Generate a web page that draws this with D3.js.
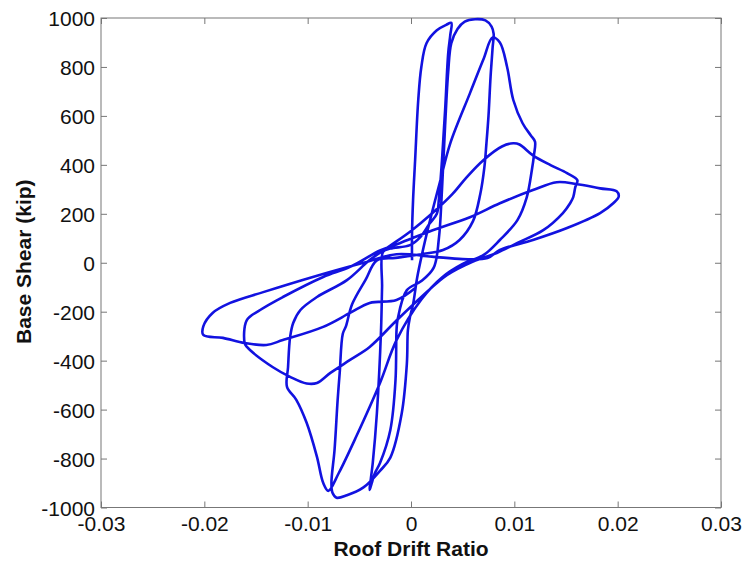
<!DOCTYPE html>
<html>
<head>
<meta charset="UTF-8">
<title>Base Shear vs Roof Drift Ratio</title>
<script src="https://d3js.org/d3.v7.min.js"></script>
<style>
  body { margin: 0; background: #fff; }
  text { font-family: "Liberation Sans", Arial, sans-serif; }
</style>
</head>
<body>
<svg id="mainsvg" width="746" height="566"></svg>
<script>
// hysteresis path (drift ratio, kip)
const driftRatio = [
  0.0001, 0.0001, 0.0002, 0.0004, 0.0007, 0.0010, 0.0015, 0.0025, 0.0034, 0.0039,
  0.0038, 0.0036, 0.0033, 0.0030, 0.0027, 0.0025, 0.0018, 0.0009, -0.0001, -0.0020, -0.0027, -0.0028, -0.0029, -0.0033, -0.0037, -0.0040,
  -0.0038, -0.0035, -0.0030, -0.0020, -0.0015, -0.0014, -0.0013, -0.0004, 0.0010, 0.0022, 0.0027, 0.0030, 0.0033, 0.0036, 0.0039, 0.0045, 0.0052, 0.0062, 0.0072, 0.0078, 0.0080,
  0.0079, 0.0077, 0.0075, 0.0073, 0.0071, 0.0067, 0.0060, 0.0047, 0.0031, 0.0010, -0.0015, -0.0033, -0.0044, -0.0057, -0.0063, -0.0066, -0.0069, -0.0071, -0.0074, -0.0077, -0.0076, -0.0072,
  -0.0062, -0.0046, -0.0030, -0.0020, -0.0009, -0.0004, -0.0003, -0.0001, 0.0002, 0.0006, 0.0012, 0.0020, 0.0028, 0.0038, 0.0057, 0.0070, 0.0079,
  0.0086, 0.0093, 0.0099, 0.0108, 0.0116, 0.0120, 0.0119, 0.0117, 0.0112, 0.0103, 0.0086, 0.0070, 0.0050, 0.0030, 0.0010, -0.0014, -0.0030, -0.0053, -0.0070, -0.0080,
  -0.0085, -0.0091, -0.0101, -0.0111, -0.0120, -0.0119, -0.0117, -0.0114, -0.0107, -0.0091, -0.0062, -0.0040, -0.0020, 0.0000, 0.0020, 0.0040, 0.0054, 0.0070, 0.0088, 0.0099,
  0.0105, 0.0118, 0.0135, 0.0151, 0.0161, 0.0159, 0.0157, 0.0154, 0.0147, 0.0128, 0.0103, 0.0083, 0.0060, 0.0035, 0.0010, -0.0015, -0.0040, -0.0059, -0.0078, -0.0091, -0.0101, -0.0117, -0.0134, -0.0159, -0.0161,
  -0.0159, -0.0146, -0.0124, -0.0085, -0.0059, -0.0030, -0.0011, 0.0021, 0.0057, 0.0086, 0.0118, 0.0141, 0.0160, 0.0183, 0.0199, 0.0201, 0.0196, 0.0183, 0.0151, 0.0118, 0.0086, 0.0074,
  0.0050, 0.0020, -0.0014, -0.0046, -0.0095, -0.0143, -0.0175, -0.0192, -0.0201, -0.0201, -0.0182, -0.0161, -0.0140, -0.0124, -0.0085, -0.0059, -0.0040, -0.0014, 0.0005
];
const baseShear = [
  10, 120, 256, 420, 664, 800, 897, 950, 972, 980,
  930, 856, 623, 419, 260, 200, 160, 105, 72, 58, 45, -100, -275, -614, -818, -928,
  -900, -860, -818, -683, -480, -275, -233, -112, -75, -20, 100, 300, 560, 780, 897, 955, 985, 995, 990, 965, 935,
  880, 760, 600, 488, 390, 280, 170, 93, 52, 35, 20, 10, -70, -170, -260, -290, -450, -561, -765, -899, -940, -960,
  -950, -918, -850, -796, -616, -412, -275, -222, -170, -60, 60, 200, 330, 488, 692, 830, 920,
  900, 800, 665, 570, 520, 495, 440, 380, 267, 174, 93, 31, -5, -60, -150, -316, -491, -710, -860, -932,
  -899, -793, -654, -560, -507, -427, -304, -246, -193, -140, -71, 11, 70, 130, 200, 280, 350, 419, 475, 488,
  483, 439, 399, 366, 337, 309, 268, 243, 203, 133, 81, 40, 5, -50, -140, -240, -344, -397, -450, -491, -493, -466, -426, -343, -328,
  -235, -193, -140, -58, -17, 50, 80, 133, 186, 243, 297, 329, 322, 304, 292, 270, 244, 203, 142, 93, 52, 19,
  15, 25, 35, 0, -58, -120, -164, -205, -260, -295, -307, -328, -336, -316, -262, -205, -164, -152, -100
];

const xTicks = [-0.03, -0.02, -0.01, 0, 0.01, 0.02, 0.03];
const xTickLabels = ["-0.03", "-0.02", "-0.01", "0", "0.01", "0.02", "0.03"];
const yTicks = [-1000, -800, -600, -400, -200, 0, 200, 400, 600, 800, 1000];
const yTickLabels = ["-1000", "-800", "-600", "-400", "-200", "0", "200", "400", "600", "800", "1000"];

const xAxisLabel = 'Roof Drift Ratio';
const yAxisLabel = 'Base Shear (kip)';

const svg = d3.select('#mainsvg');
const width = +svg.attr('width');
const height = +svg.attr('height');
const margin = {top: 18, right: 25, bottom: 58.5, left: 101};
const innerWidth = width - margin.left - margin.right;
const innerHeight = height - margin.top - margin.bottom;

const xScale = d3.scaleLinear().domain([-0.03, 0.03]).range([0, innerWidth]);
const yScale = d3.scaleLinear().domain([-1000, 1000]).range([innerHeight, 0]);

const g = svg.append('g')
    .attr('transform', `translate(${margin.left}, ${margin.top})`)
    .attr('id', 'maingroup');

const axisColor = '#777777';
const tickLen = 6;

// bottom axis with labels, ticks pointing inward
const xAxis = d3.axisBottom(xScale)
    .tickValues(xTicks)
    .tickFormat((d, i) => xTickLabels[i])
    .tickSizeInner(-tickLen).tickSizeOuter(0)
    .tickPadding(9);
const xAxisGroup = g.append('g').attr('transform', `translate(0, ${innerHeight})`).call(xAxis);

const yAxis = d3.axisLeft(yScale)
    .tickValues(yTicks)
    .tickFormat((d, i) => yTickLabels[i])
    .tickSizeInner(-tickLen).tickSizeOuter(0)
    .tickPadding(6);
const yAxisGroup = g.append('g').call(yAxis);

// mirrored ticks on top and right, no labels
const topGroup = g.append('g').call(d3.axisTop(xScale).tickValues(xTicks)
    .tickSizeInner(-tickLen).tickSizeOuter(0));
const rightGroup = g.append('g').attr('transform', `translate(${innerWidth}, 0)`)
    .call(d3.axisRight(yScale).tickValues(yTicks).tickSizeInner(-tickLen).tickSizeOuter(0));
topGroup.selectAll('.tick text').remove();
rightGroup.selectAll('.tick text').remove();

[xAxisGroup, yAxisGroup, topGroup, rightGroup].forEach(a => {
    a.selectAll('.domain').remove();
    a.selectAll('.tick line').attr('stroke', axisColor);
    a.selectAll('.tick text')
        .attr('fill', '#111')
        .style('font-size', '21px')
        .style('font-family', '"Liberation Sans", Arial, sans-serif');
});
yAxisGroup.selectAll('.tick text').attr('dy', '0.36em');

g.append('rect')
    .attr('width', innerWidth)
    .attr('height', innerHeight)
    .attr('fill', 'none')
    .attr('stroke', axisColor)
    .attr('stroke-width', 1);

// axis titles
g.append('text')
    .attr('x', innerWidth / 2)
    .attr('y', innerHeight + 48.5)
    .attr('text-anchor', 'middle')
    .style('font-size', '21px')
    .style('font-weight', 'bold')
    .attr('fill', '#111')
    .text(xAxisLabel);

g.append('text')
    .attr('transform', 'rotate(-90)')
    .attr('x', -innerHeight / 2 + 1)
    .attr('y', -70)
    .attr('text-anchor', 'middle')
    .style('font-size', '21px')
    .style('font-weight', 'bold')
    .attr('fill', '#111')
    .text(yAxisLabel);

// the hysteresis curve
const points = driftRatio.map((d, i) => [d, baseShear[i]]);
const line = d3.line()
    .curve(d3.curveCatmullRom.alpha(0.5))
    .x(d => xScale(d[0]))
    .y(d => yScale(d[1]));

g.append('path')
    .datum(points)
    .attr('d', line)
    .attr('fill', 'none')
    .attr('stroke', '#1212e0')
    .attr('stroke-width', 2.6)
    .attr('stroke-linejoin', 'round');
</script>
</body>
</html>
